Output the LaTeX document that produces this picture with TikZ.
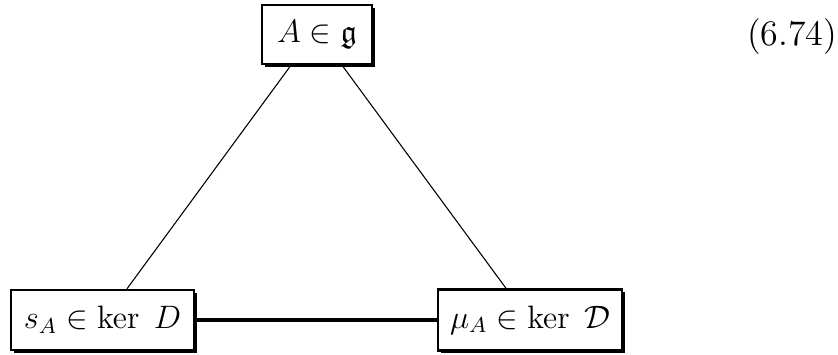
\documentclass[tikz,border=0pt]{standalone}
\usepackage{amssymb}
\usetikzlibrary{shadows}
\begin{document}
\begin{tikzpicture}[x=0.37pt,y=0.37pt,
  box/.style={draw, line width=0.9pt, fill=white, inner sep=0pt, font=\large,
    drop shadow={shadow xshift=1.1pt, shadow yshift=-1.1pt, fill=black, opacity=1}},
  diag/.style={line width=0.4pt},
  thicklink/.style={line width=1.3pt}]
\useasboundingbox (0,0) rectangle (838,354);
\node[box, minimum width=110*0.37pt, minimum height=59*0.37pt] (top) at (317,319.5) {$A\in\mathfrak{g}$};
\node[box, minimum width=183*0.37pt, minimum height=60*0.37pt] (bl) at (102.5,34) {$s_A\in\ker\;D$};
\node[box, minimum width=184*0.37pt, minimum height=61*0.37pt] (br) at (530,34) {$\mu_A\in\ker\;\mathcal{D}$};
\node[font=\fontsize{13.3}{16}\selectfont] (eq) at (792,317) {(6.74)};
\draw[diag] ([xshift=-26*0.37pt]top.south) -- ([xshift=24.5*0.37pt]bl.north);
\draw[diag] ([xshift=25*0.37pt]top.south) -- ([xshift=-24*0.37pt]br.north);
\draw[thicklink] (bl.east) -- (br.west);
\end{tikzpicture}
\end{document}
